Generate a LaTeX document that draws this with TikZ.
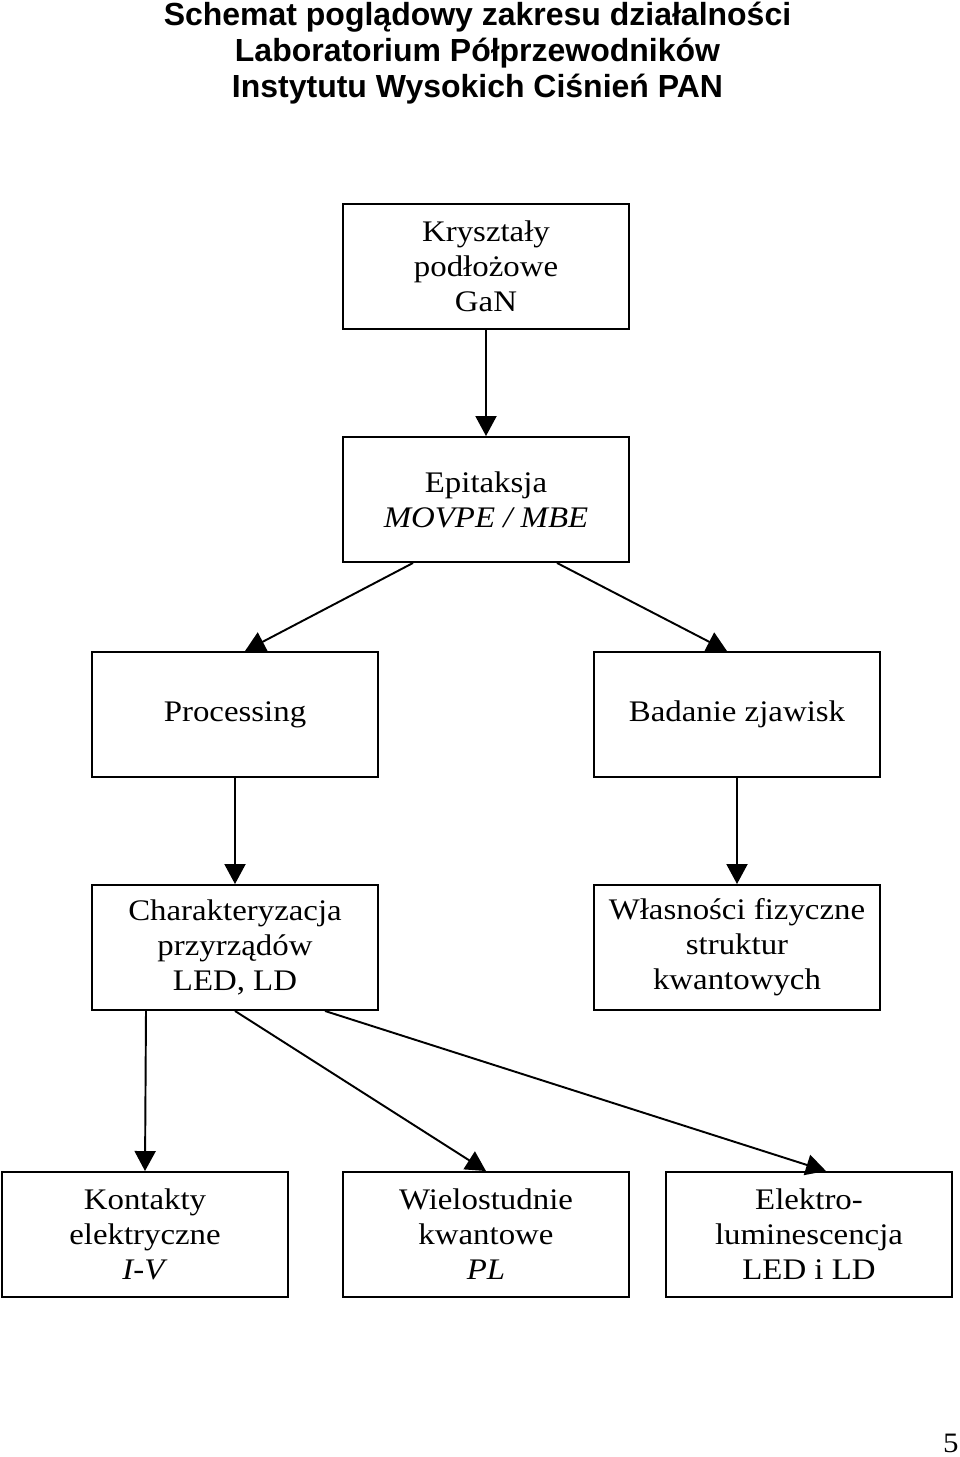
\documentclass[tikz,border=0pt]{standalone}
\usepackage{fontspec}
\setmainfont[FakeStretch=1.1]{Liberation Serif}
\newfontfamily\titlefont{Liberation Sans}
\usepackage{tikz}
\usetikzlibrary{arrows.meta,positioning}
\tikzstyle{box}=[rectangle, draw, line width=1.1pt, minimum width=5.72cm,
minimum height=2.5cm, inner sep=0pt, align=center,
font=\fontsize{17}{19.9}\selectfont]
\tikzstyle{flow}=[line width=1.1pt,->,>={Triangle[length=4mm,width=4.2mm]}]

\begin{document}
\begin{tikzpicture}
\useasboundingbox (0,0) rectangle (19.2,-29.14);
\node[font=\titlefont\bfseries\fontsize{18.2}{20.6}\selectfont, align=center, inner sep=0pt, anchor=north] (title) at (9.55,-0.03) {Schemat poglądowy zakresu działalności\\Laboratorium Półprzewodników\\Instytutu Wysokich Ciśnień PAN};
\node[box] (kryszt) at (9.72,-5.33) {Kryształy\\podłożowe\\GaN};
\node[box] (epi) at (9.72,-9.99) {Epitaksja\\\textit{MOVPE / MBE}};
\node[box] (proc) at (4.70,-14.29) {Processing};
\node[box] (badanie) at (14.74,-14.29) {Badanie zjawisk};
\node[box] (charakt) at (4.70,-18.95) {Charakteryzacja\\przyrządów\\LED, LD};
\node[box] (wlasn) at (14.74,-18.95) {Własności fizyczne\\struktur\\kwantowych};
\node[box] (kontakty) at (2.90,-24.69) {Kontakty\\elektryczne\\\textit{I-V}};
\node[box] (wielo) at (9.72,-24.69) {Wielostudnie\\kwantowe\\\textit{PL}};
\node[box] (elektro) at (16.18,-24.69) {Elektro-\\luminescencja\\LED i LD};
\node[font=\fontsize{16}{18}\selectfont, anchor=base east, inner sep=0pt] (page) at (19.18,-29.04) {5};
\draw[flow] (kryszt) -- (epi);
\draw[flow] ([xshift=-1.46cm]epi.south) -- ([xshift=0.2cm]proc.north);
\draw[flow] ([xshift=1.42cm]epi.south) -- ([xshift=-0.2cm]badanie.north);
\draw[flow] (proc) -- (charakt); \draw[flow] (badanie) -- (wlasn);
\draw[flow] ([xshift=-1.78cm]charakt.south) -- (kontakty.north);
\draw[flow] (charakt.south) -- (wielo.north);
\draw[flow] ([xshift=1.8cm]charakt.south) -- ([xshift=0.34cm]elektro.north);
\end{tikzpicture}
\end{document}
